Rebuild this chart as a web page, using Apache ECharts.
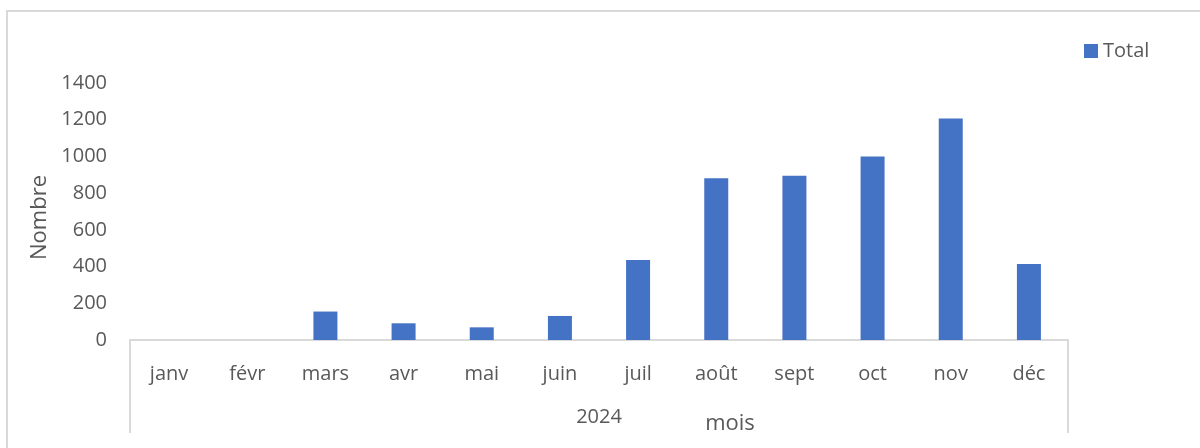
<!DOCTYPE html>
<html>
<head>
<meta charset="utf-8">
<title>Nombre par mois</title>
<script src="https://cdn.jsdelivr.net/npm/echarts@6/dist/echarts.min.js"></script>
<style>
  html, body { margin: 0; padding: 0; background: #fff; }
  #myChart { width: 1200px; height: 448px; }
</style>
</head>
<body>
<div id="myChart"></div>
<script>
  // données
  var mois = ['janv', 'févr', 'mars', 'avr', 'mai', 'juin', 'juil', 'août', 'sept', 'oct', 'nov', 'déc']
  var annee = ['2024']
  var total = [0, 0, 155, 91, 69, 131, 436, 881, 895, 1000, 1207, 414]

  var gris = '#595959'
  var trait = '#d9d9d9'
  var police = 'Open Sans'

  var myChart = echarts.init(document.getElementById('myChart'))
  var option = {
    animation: false,
    textStyle: { fontFamily: police },
    graphic: [{
      type: 'rect',
      shape: { x: 7, y: 11, width: 1300, height: 500 },
      style: { fill: 'none', stroke: trait, lineWidth: 2 },
      z: -1
    }],
    legend: {
      left: 1079,
      top: 36,
      itemWidth: 14,
      itemHeight: 14,
      icon: 'rect',
      data: ['Total'],
      textStyle: { color: gris, fontSize: 20, fontFamily: police }
    },
    grid: {
      left: 130,
      right: 132,
      top: 83,
      bottom: 108
    },
    xAxis: [{
      type: 'category',
      data: mois,
      name: 'mois',
      nameLocation: 'middle',
      nameGap: 73,
      nameTextStyle: { color: gris, fontSize: 22, fontFamily: police, padding: [0, 0, 0, 262] },
      axisLine: { lineStyle: { color: trait, width: 2 } },
      axisTick: { show: false },
      axisLabel: { color: gris, fontSize: 20, margin: 24, fontFamily: police }
    }, {
      // deuxième niveau de catégories (année)
      type: 'category',
      data: annee,
      position: 'bottom',
      axisLine: { lineStyle: { color: trait, width: 2 } },
      axisTick: { show: true, length: 93, lineStyle: { color: trait, width: 2 } },
      axisLabel: { color: gris, fontSize: 20, margin: 67, fontFamily: police }
    }],
    yAxis: {
      type: 'value',
      min: 0,
      max: 1400,
      interval: 200,
      name: 'Nombre',
      nameLocation: 'middle',
      nameGap: 77,
      nameTextStyle: { color: gris, fontSize: 22, fontFamily: police, padding: [0, 12, 0, 0] },
      axisLine: { show: false },
      axisTick: { show: false },
      splitLine: { show: false },
      axisLabel: {
        color: gris,
        fontSize: 20,
        margin: 23,
        fontFamily: police,
        formatter: function (v) { return String(v) }
      }
    },
    series: [{
      name: 'Total',
      type: 'bar',
      xAxisIndex: 0,
      data: total,
      barWidth: 24,
      itemStyle: { color: '#4472C4' }
    }]
  }
  myChart.setOption(option)
</script>
</body>
</html>
